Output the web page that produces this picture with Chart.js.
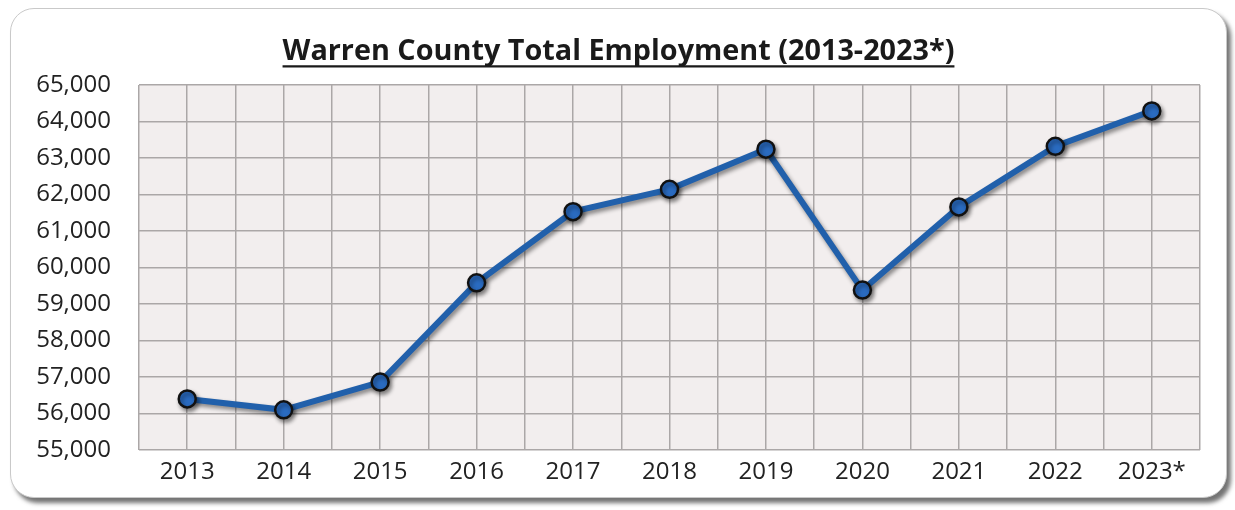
<!DOCTYPE html>
<html>
<head>
<meta charset="utf-8">
<script src="https://cdn.jsdelivr.net/npm/chart.js@4/dist/chart.umd.min.js"></script>
<style>
  html, body { margin: 0; padding: 0; background: #fff; }
  body { width: 1235px; height: 510px; position: relative; overflow: hidden; }
  .card {
    position: absolute; left: 10px; top: 8px; width: 1217px; height: 490px;
    border: 1px solid #c9c9c9; border-radius: 24px; background: #fff;
    box-shadow: 4px 5px 4px rgba(70, 70, 70, 0.75);
    box-sizing: border-box;
  }
  .card canvas { position: absolute; left: 0; top: 0; }
</style>
</head>
<body>
<div class="card">
  <canvas id="chart" width="1217" height="490"></canvas>
</div>
<script>
const years = ['2013', '2014', '2015', '2016', '2017', '2018', '2019', '2020', '2021', '2022', '2023*']
const employment = [56400, 56100, 56860, 59580, 61530, 62140, 63240, 59380, 61660, 63320, 64290]
const yTicks = [55000, 56000, 57000, 58000, 59000, 60000, 61000, 62000, 63000, 64000, 65000]

const FONT = '"Open Sans", Lato, sans-serif'

// grey paper fill behind the grid
const plotBackground = {
    id: 'plotBackground',
    beforeDraw(chart) {
        const { ctx, chartArea: a } = chart
        ctx.save()
        ctx.fillStyle = '#f2eeee'
        ctx.fillRect(a.left, a.top, a.right - a.left, a.bottom - a.top)
        ctx.restore()
    }
}

// title sits a little right of centre in the original; also underline it
const titleUnderline = {
    id: 'titleUnderline',
    afterLayout(chart) {
        if (chart.titleBlock) chart.titleBlock.left += 26
    },
    afterDraw(chart) {
        const t = chart.titleBlock
        if (!t) return
        const { ctx } = chart
        ctx.save()
        ctx.font = t.options.font.weight + ' ' + t.options.font.size + 'px ' + t.options.font.family
        const w = ctx.measureText(t.options.text).width
        const cx = (t.left + t.right) / 2
        const y = t.top + t.options.padding.top + t.options.font.size * 0.5 + 17
        ctx.strokeStyle = '#1a1a1a'
        ctx.lineWidth = 2.2
        ctx.beginPath()
        ctx.moveTo(cx - w / 2, y)
        ctx.lineTo(cx + w / 2, y)
        ctx.stroke()
        ctx.restore()
    }
}

// soft drop shadow under the line and markers
const lineShadow = {
    id: 'lineShadow',
    beforeDatasetsDraw(chart) {
        const { ctx } = chart
        ctx.save()
        ctx.shadowColor = 'rgba(0, 0, 0, 0.45)'
        ctx.shadowBlur = 4
        ctx.shadowOffsetX = 2
        ctx.shadowOffsetY = 3
    },
    afterDatasetsDraw(chart) {
        chart.ctx.restore()
    }
}

const ctx = document.getElementById('chart').getContext('2d')
new Chart(ctx, {
    type: 'line',
    data: {
        datasets: [{
            label: 'Total Employment',
            data: employment.map((v, i) => ({ x: i, y: v })),
            borderColor: '#2160ab',
            borderWidth: 6,
            pointRadius: 8.5,
            pointBackgroundColor: '#2a6bc0',
            pointBorderColor: '#111',
            pointBorderWidth: 2.5,
            tension: 0
        }]
    },
    options: {
        responsive: false,
        animation: false,
        layout: { padding: { top: 26, right: 28, left: 0, bottom: 0 } },
        plugins: {
            legend: { display: false },
            tooltip: { enabled: false },
            title: {
                display: true,
                text: 'Warren County Total Employment (2013-2023*)',
                color: '#1a1a1a',
                font: { family: FONT, size: 28.8, weight: 'bold', lineHeight: 1.2 },
                padding: { top: 0, bottom: 15.4 }
            }
        },
        scales: {
            x: {
                type: 'linear',
                min: -0.5,
                max: 10.5,
                afterFit: (s) => { s.height = 49 },
                ticks: {
                    stepSize: 0.5,
                    autoSkip: false,
                    maxRotation: 0,
                    padding: 8,
                    color: '#222',
                    font: { family: FONT, size: 24 },
                    callback: (v) => Number.isInteger(v) ? years[v] : ''
                },
                grid: { color: '#aba7a7', lineWidth: 1.5, drawTicks: false },
                border: { display: false }
            },
            y: {
                min: 55000,
                max: 65000,
                afterFit: (s) => { s.width = 128 },
                afterBuildTicks: (s) => { s.ticks = yTicks.map(v => ({ value: v })) },
                ticks: {
                    padding: 28,
                    color: '#222',
                    font: { family: FONT, size: 24 },
                    callback: (v) => v.toLocaleString('en-US')
                },
                grid: { color: '#aba7a7', lineWidth: 1.5, drawTicks: false },
                border: { display: false }
            }
        }
    },
    plugins: [plotBackground, titleUnderline, lineShadow]
})
</script>
</body>
</html>
